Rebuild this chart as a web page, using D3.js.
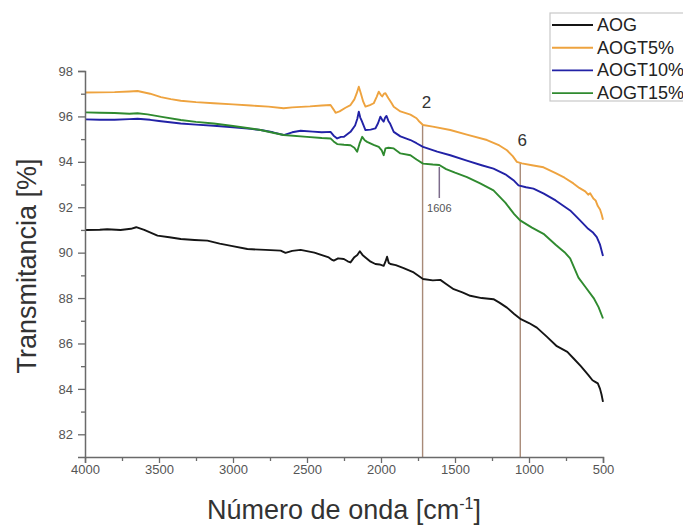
<!DOCTYPE html>
<html>
<head>
<meta charset="utf-8">
<script src="https://cdn.jsdelivr.net/npm/d3@7"></script>
<style>
  html, body { margin: 0; padding: 0; background: #fff; }
  svg { display: block; font-family: Arial, "Liberation Sans", sans-serif; }
</style>
</head>
<body>
<svg id="chart" width="683" height="529"></svg>
<script>
// FTIR transmittance spectra, [wavenumber cm-1, transmittance %]
const seriesNames = ["AOG", "AOGT5%", "AOGT10%", "AOGT15%"];
const seriesColors = ["#151515", "#eea33f", "#2222a6", "#2f8a2f"];

const aog = [
  [4000, 91.0], [3900, 91.01], [3850, 91.03], [3760, 91.0], [3690, 91.05], [3654, 91.12], [3600, 91.0],
  [3510, 90.75], [3430, 90.68], [3353, 90.6], [3260, 90.56], [3173, 90.53], [3090, 90.4], [3012, 90.3],
  [2903, 90.16], [2780, 90.12], [2678, 90.09], [2645, 89.99], [2600, 90.08], [2543, 90.12],
  [2450, 90.0], [2353, 89.79], [2330, 89.68], [2319, 89.65], [2290, 89.75], [2251, 89.72],
  [2225, 89.62], [2206, 89.57], [2180, 89.8], [2160, 89.9], [2143, 90.06], [2125, 89.9],
  [2105, 89.79], [2070, 89.6], [2038, 89.5], [2010, 89.48], [1982, 89.42], [1970, 89.6],
  [1959, 89.82], [1948, 89.55], [1936, 89.5], [1900, 89.45], [1847, 89.32], [1779, 89.13],
  [1716, 88.84], [1650, 88.78], [1599, 88.8], [1560, 88.62], [1509, 88.39], [1450, 88.25],
  [1397, 88.1], [1320, 88.0], [1240, 87.95], [1200, 87.8], [1149, 87.58], [1100, 87.3],
  [1055, 87.07], [1000, 86.9], [947, 86.7], [880, 86.3], [812, 85.88], [741, 85.63],
  [700, 85.35], [650, 85.0], [600, 84.62], [571, 84.38], [550, 84.3], [535, 84.24],
  [520, 84.0], [510, 83.75], [500, 83.43]
];

const aogt5 = [
  [4000, 97.05], [3900, 97.06], [3800, 97.07], [3700, 97.1], [3645, 97.12], [3560, 97.0],
  [3487, 96.85], [3420, 96.76], [3353, 96.69], [3250, 96.63], [3130, 96.58], [3000, 96.53],
  [2880, 96.48], [2760, 96.43], [2658, 96.36], [2600, 96.4], [2480, 96.44], [2400, 96.48],
  [2341, 96.5], [2320, 96.3], [2307, 96.16], [2280, 96.22], [2240, 96.38], [2206, 96.5],
  [2180, 96.75], [2165, 97.0], [2150, 97.31], [2138, 97.05], [2120, 96.65], [2105, 96.43],
  [2075, 96.5], [2049, 96.58], [2030, 96.85], [2015, 97.09], [2002, 96.95], [1992, 96.88],
  [1980, 97.0], [1970, 97.02], [1950, 96.8], [1930, 96.6], [1914, 96.43], [1869, 96.22],
  [1801, 96.08], [1760, 95.92], [1745, 95.8], [1716, 95.62], [1650, 95.55], [1532, 95.4],
  [1420, 95.2], [1284, 94.96], [1200, 94.72], [1149, 94.51], [1110, 94.25], [1082, 94.0],
  [1048, 93.93], [980, 93.85], [902, 93.76], [820, 93.5], [760, 93.3], [700, 93.05],
  [660, 92.85], [620, 92.7], [600, 92.55], [587, 92.62], [565, 92.38], [550, 92.3],
  [535, 92.05], [520, 91.9], [510, 91.7], [500, 91.45]
];

const aogt10 = [
  [4000, 95.87], [3900, 95.85], [3800, 95.85], [3700, 95.88], [3645, 95.9], [3560, 95.85],
  [3500, 95.8], [3353, 95.69], [3250, 95.64], [3130, 95.59], [3000, 95.52], [2880, 95.45],
  [2813, 95.4], [2730, 95.3], [2658, 95.18], [2600, 95.3], [2543, 95.37], [2460, 95.33],
  [2400, 95.3], [2341, 95.32], [2320, 95.15], [2296, 95.03], [2270, 95.1], [2250, 95.1],
  [2206, 95.32], [2175, 95.6], [2160, 95.9], [2150, 96.21], [2140, 95.95], [2130, 95.8],
  [2105, 95.4], [2070, 95.42], [2038, 95.47], [2020, 95.7], [2004, 95.99], [1992, 95.85],
  [1982, 95.77], [1972, 95.95], [1963, 96.02], [1950, 95.8], [1940, 95.7], [1914, 95.32],
  [1869, 95.12], [1801, 94.96], [1760, 94.82], [1716, 94.66], [1620, 94.45], [1532, 94.29],
  [1420, 94.05], [1320, 93.85], [1240, 93.7], [1160, 93.45], [1105, 93.19], [1071, 92.96],
  [1020, 92.88], [970, 92.82], [900, 92.6], [820, 92.3], [722, 91.86], [690, 91.65],
  [655, 91.42], [600, 91.05], [570, 90.9], [542, 90.68], [520, 90.35], [500, 89.85]
];

const aogt15 = [
  [4000, 96.18], [3900, 96.16], [3800, 96.15], [3700, 96.12], [3645, 96.14], [3577, 96.09],
  [3480, 95.98], [3353, 95.84], [3250, 95.76], [3130, 95.69], [3000, 95.58], [2880, 95.47],
  [2813, 95.4], [2730, 95.28], [2658, 95.18], [2500, 95.1], [2400, 95.05], [2341, 95.03],
  [2320, 94.9], [2296, 94.78], [2250, 94.75], [2206, 94.73], [2180, 94.62], [2161, 94.44],
  [2145, 94.8], [2127, 95.1], [2110, 94.95], [2094, 94.88], [2050, 94.75], [2015, 94.66],
  [1995, 94.5], [1982, 94.29], [1970, 94.59], [1950, 94.62], [1914, 94.59], [1869, 94.37],
  [1801, 94.29], [1760, 94.1], [1716, 93.92], [1650, 93.88], [1606, 93.86], [1560, 93.68],
  [1500, 93.52], [1419, 93.33], [1330, 93.05], [1240, 92.74], [1160, 92.2], [1100, 91.7],
  [1060, 91.42], [980, 91.1], [902, 90.83], [820, 90.35], [760, 90.02], [722, 89.75],
  [666, 88.9], [620, 88.5], [563, 88.0], [530, 87.6], [500, 87.1]
];

const seriesData = [aog, aogt5, aogt10, aogt15];

// Axis ticks
const xTicks = [4000, 3500, 3000, 2500, 2000, 1500, 1000, 500];
const xMinorTicks = [3750, 3250, 2750, 2250, 1750, 1250, 750];
const yTicks = [82, 84, 86, 88, 90, 92, 94, 96, 98];
const yMinorTicks = [83, 85, 87, 89, 91, 93, 95, 97];

// Marked bands (vertical lines) and their labels, plus a peak marker
const bandPositions = [1719, 1059];
const bandLabels = ["2", "6"];
const peakMarker = 1606;

const svg = d3.select("#chart");

const x = d3.scaleLinear().domain([4000, 500]).range([85, 603]);
const y = d3.scaleLinear().domain([81, 98]).range([457, 71]);

const axisColor = "#6a6a6a";
const tickTextColor = "#555";

// Linear lookup of a trace value at a given wavenumber
const interp = (data, wn) => {
  for (let i = 0; i < data.length - 1; i++) {
    const a = data[i], b = data[i + 1];
    if (wn <= a[0] && wn >= b[0]) {
      const t = (a[0] - wn) / (a[0] - b[0]);
      return a[1] + t * (b[1] - a[1]);
    }
  }
  return data[data.length - 1][1];
};

// Vertical band lines from the x axis up to the AOGT5% trace
const bands = svg.append("g");
bandPositions.forEach((wn, i) => {
  bands.append("line")
    .attr("x1", x(wn)).attr("x2", x(wn))
    .attr("y1", y(81)).attr("y2", y(interp(aogt5, wn)))
    .attr("stroke", "#a88a78").attr("stroke-width", 1.4);
  bands.append("text")
    .attr("x", x(wn) + (i === 0 ? 4 : 2))
    .attr("y", y(interp(aogt5, wn)) - 17)
    .attr("text-anchor", "middle")
    .attr("font-size", 17)
    .attr("fill", "#333")
    .text(bandLabels[i]);
});

// Spectra
const line = d3.line().x(d => x(d[0])).y(d => y(d[1]));
svg.append("g").selectAll("path")
  .data(seriesData)
  .join("path")
  .attr("d", line)
  .attr("fill", "none")
  .attr("stroke", (d, i) => seriesColors[i])
  .attr("stroke-width", 1.9)
  .attr("stroke-linejoin", "round");

// Peak marker below the AOGT15% trace
const peakTop = y(interp(aogt15, peakMarker)) + 2;
svg.append("line")
  .attr("x1", x(peakMarker)).attr("x2", x(peakMarker))
  .attr("y1", peakTop).attr("y2", peakTop + 31)
  .attr("stroke", "#7d6c8c").attr("stroke-width", 1.5);
svg.append("text")
  .attr("x", x(peakMarker)).attr("y", peakTop + 45)
  .attr("text-anchor", "middle")
  .attr("font-size", 11)
  .attr("fill", "#555")
  .text(String(peakMarker));

// X axis
const xAxis = svg.append("g").attr("transform", `translate(0,${y(81)})`);
xAxis.call(d3.axisBottom(x).tickValues(xTicks).tickSize(6).tickPadding(2).tickFormat(d3.format("d")));
xAxis.append("g").call(d3.axisBottom(x).tickValues(xMinorTicks).tickSize(4).tickFormat(""))
  .select(".domain").remove();

// Y axis
const yAxis = svg.append("g").attr("transform", `translate(${x(4000)},0)`);
yAxis.call(d3.axisLeft(y).tickValues(yTicks).tickSize(7).tickPadding(5).tickFormat(d3.format("d")));
yAxis.append("g").call(d3.axisLeft(y).tickValues(yMinorTicks).tickSize(4).tickFormat(""))
  .select(".domain").remove();

svg.selectAll(".domain").attr("stroke", axisColor).attr("stroke-width", 1.5);
svg.selectAll(".tick line").attr("stroke", axisColor).attr("stroke-width", 1.3);
svg.selectAll(".tick text")
  .attr("fill", tickTextColor)
  .attr("font-size", 13)
  .attr("font-family", "Arial, 'Liberation Sans', sans-serif");

// Axis titles
svg.append("text")
  .attr("transform", `translate(36,266) rotate(-90)`)
  .attr("text-anchor", "middle")
  .attr("font-size", 27)
  .attr("fill", "#333")
  .text("Transmitancia [%]");

const xTitle = svg.append("text")
  .attr("x", (x(4000) + x(500)) / 2)
  .attr("y", 519)
  .attr("text-anchor", "middle")
  .attr("font-size", 27)
  .attr("fill", "#333");
xTitle.append("tspan").text("Número de onda [cm");
xTitle.append("tspan").attr("font-size", 16).attr("dy", -10).text("-1");
xTitle.append("tspan").attr("dy", 10).text("]");

// Legend
const legend = svg.append("g");
legend.append("rect")
  .attr("x", 550).attr("y", 13).attr("width", 150).attr("height", 88)
  .attr("fill", "none").attr("stroke", "#c8c8c8").attr("stroke-width", 1.2);
seriesNames.forEach((name, i) => {
  const ly = 25 + i * 22.7;
  legend.append("line")
    .attr("x1", 552).attr("x2", 593).attr("y1", ly).attr("y2", ly)
    .attr("stroke", seriesColors[i]).attr("stroke-width", 1.9);
  legend.append("text")
    .attr("x", 597).attr("y", ly + 6)
    .attr("font-size", 18)
    .attr("fill", "#222")
    .text(name);
});
</script>
</body>
</html>
